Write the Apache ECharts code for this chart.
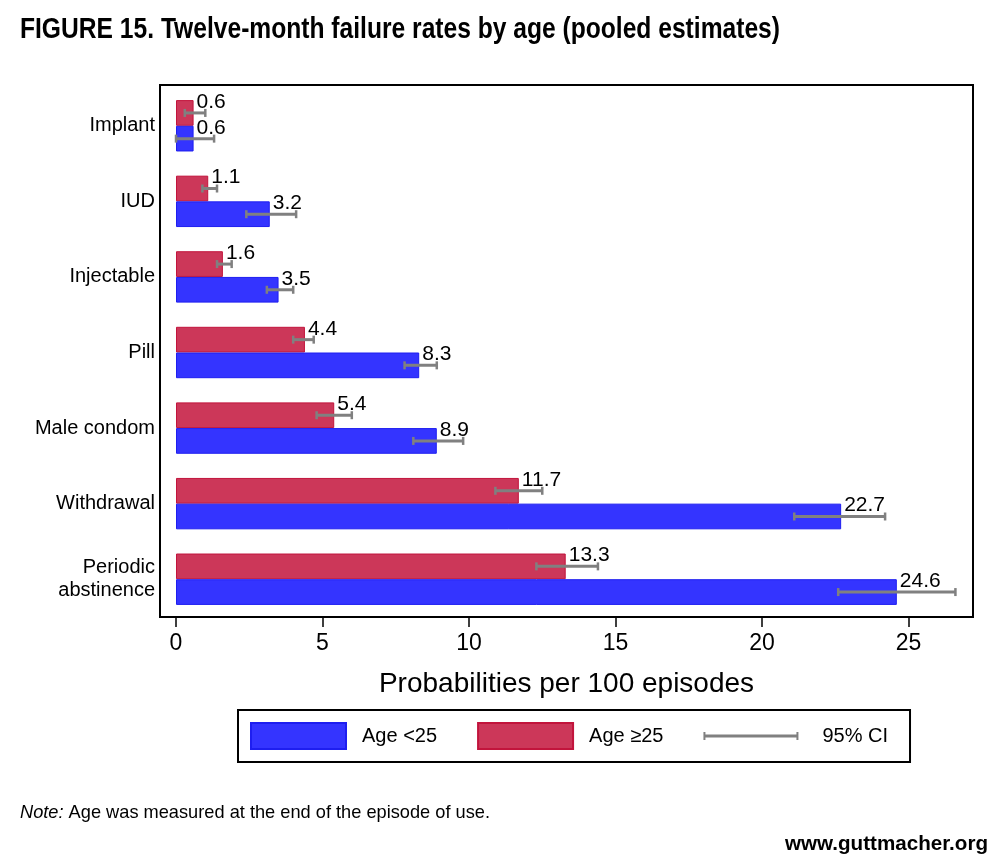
<!DOCTYPE html>
<html>
<head>
<meta charset="utf-8">
<script src="https://cdn.jsdelivr.net/npm/echarts@6/dist/echarts.min.js"></script>
<style>
html,body{margin:0;padding:0;background:#fff;}
#chart{width:1000px;height:862px;}
</style>
</head>
<body>
<div id="chart"></div>
<script>
const categories = ['Implant', 'IUD', 'Injectable', 'Pill', 'Male condom', 'Withdrawal', 'Periodic\nabstinence'];
const ageUnder25 = [0.6, 3.2, 3.5, 8.3, 8.9, 22.7, 24.6];
const ageOver25 = [0.6, 1.1, 1.6, 4.4, 5.4, 11.7, 13.3];
const ciUnder25Low = [0.0, 2.4, 3.1, 7.8, 8.1, 21.1, 22.6];
const ciUnder25High = [1.3, 4.1, 4.0, 8.9, 9.8, 24.2, 26.6];
const ciOver25Low = [0.3, 0.9, 1.4, 4.0, 4.8, 10.9, 12.3];
const ciOver25High = [1.0, 1.4, 1.9, 4.7, 6.0, 12.5, 14.4];
const xTicks = [0, 5, 10, 15, 20, 25];

const titleText = 'FIGURE 15. Twelve-month failure rates by age (pooled estimates)';
const noteLead = 'Note:';
const noteText = ' Age was measured at the end of the episode of use.';
const sourceText = 'www.guttmacher.org';

const FONT = '"Liberation Sans", Arial, sans-serif';
const BAR_FRAC = 0.34;

const ctx = document.createElement('canvas').getContext('2d');
function textWidth(t, font) { ctx.font = font; return ctx.measureText(t).width; }

const titleFont = 'bold 29px ' + FONT;
const titleScale = 760 / textWidth(titleText, titleFont);
const noteFont = '19px ' + FONT;
const noteItalFont = 'italic 19px ' + FONT;
const noteScale = 470 / (textWidth(noteLead, noteItalFont) + textWidth(noteText, noteFont));
const srcFont = 'bold 21px ' + FONT;
const srcScale = 203 / textWidth(sourceText, srcFont);

const ciData = [];
categories.forEach((c, i) => {
  ciData.push([ciOver25Low[i], ciOver25High[i], i, -1]);
  ciData.push([ciUnder25Low[i], ciUnder25High[i], i, 1]);
});

function renderCI(params, api) {
  const lo = api.value(0), hi = api.value(1), cat = api.value(2), side = api.value(3);
  const band = api.size([0, 1])[1];
  const p1 = api.coord([lo, cat]);
  const p2 = api.coord([hi, cat]);
  const y = p1[1] + side * band * BAR_FRAC / 2;
  const cap = 4;
  const capStyle = { stroke: '#808080', lineWidth: 2.5 };
  return {
    type: 'group',
    children: [
      { type: 'line', shape: { x1: p1[0], y1: y, x2: p2[0], y2: y }, style: { stroke: '#808080', lineWidth: 3 } },
      { type: 'line', shape: { x1: p1[0], y1: y - cap, x2: p1[0], y2: y + cap }, style: capStyle },
      { type: 'line', shape: { x1: p2[0], y1: y - cap, x2: p2[0], y2: y + cap }, style: capStyle }
    ]
  };
}

const chart = echarts.init(document.getElementById('chart'), null, { renderer: 'canvas' });
const valueLabel = {
  show: true,
  position: ['100%', 0],
  offset: [3, 2],
  align: 'left',
  verticalAlign: 'middle',
  color: '#000',
  fontFamily: FONT,
  fontSize: 21
};
const ciIcon = 'path://M0,0 M95,26 M0,9 L2,9 L2,11.5 L93,11.5 L93,9 L95,9 L95,17 L93,17 L93,14.5 L2,14.5 L2,17 L0,17 Z';

chart.setOption({
  animation: false,
  backgroundColor: '#fff',
  graphic: [
    { type: 'rect', shape: { x: 160, y: 85, width: 813, height: 532 }, style: { fill: 'none', stroke: '#000', lineWidth: 2 }, z: 10 },
    { type: 'text', x: 20, y: 30, scaleX: titleScale,
      style: { text: titleText, font: titleFont, fill: '#000', align: 'left', verticalAlign: 'middle' } },
    { type: 'text', x: 20, y: 813, scaleX: noteScale,
      style: { text: '{i|' + noteLead + '}' + noteText, font: noteFont, fill: '#000', align: 'left', verticalAlign: 'middle',
        rich: { i: { font: noteItalFont, fill: '#000' } } } },
    { type: 'text', x: 988, y: 844, scaleX: srcScale,
      style: { text: sourceText, font: srcFont, fill: '#000', align: 'right', verticalAlign: 'middle' } }
  ],
  grid: { left: 176, right: 27, top: 88, bottom: 245, containLabel: false },
  legend: {
    left: 238, top: 710,
    padding: [12, 22, 12, 12],
    borderColor: '#000', borderWidth: 2,
    itemWidth: 95, itemHeight: 26, itemGap: 40,
    textStyle: { fontFamily: FONT, fontSize: 20, color: '#000', padding: [0, 0, 0, 11] },
    data: [
      { name: 'Age <25', icon: 'rect' },
      { name: 'Age \u226525', icon: 'rect' },
      { name: '95% CI', icon: ciIcon, itemStyle: { color: '#808080', borderWidth: 0 },
        textStyle: { fontFamily: FONT, fontSize: 20, color: '#000', padding: [0, 0, 0, 19] } }
    ]
  },
  xAxis: {
    type: 'value', min: 0, max: 27.2, interval: 5,
    axisLine: { show: false },
    axisTick: { show: true, inside: false, length: 10, lineStyle: { color: '#000', width: 1.5 }, customValues: xTicks },
    axisLabel: { color: '#000', fontFamily: FONT, fontSize: 23, margin: 15, customValues: xTicks },
    splitLine: { show: false },
    name: 'Probabilities per 100 episodes', nameLocation: 'middle', nameGap: 53,
    nameTextStyle: { fontFamily: FONT, fontSize: 28, color: '#000', padding: [0, 16, 0, 0] }
  },
  yAxis: {
    type: 'category', data: categories, inverse: true,
    axisLine: { show: false }, axisTick: { show: false },
    axisLabel: { color: '#000', fontFamily: FONT, fontSize: 20, margin: 21, lineHeight: 23, align: 'right' }
  },
  series: [
    { name: 'Age \u226525', type: 'bar', data: ageOver25, barWidth: (BAR_FRAC * 100) + '%', barGap: '0%',
      itemStyle: { color: '#CC3759', borderColor: '#C2143C', borderWidth: 1 }, label: valueLabel },
    { name: 'Age <25', type: 'bar', data: ageUnder25, barWidth: (BAR_FRAC * 100) + '%', barGap: '0%',
      itemStyle: { color: '#3434FF', borderColor: '#1E1EF0', borderWidth: 1 }, label: valueLabel },
    { name: '95% CI', type: 'custom', data: ciData, renderItem: renderCI, z: 5,
      itemStyle: { color: '#808080' }, encode: { x: [0, 1], y: 2 } }
  ]
});
</script>
</body>
</html>
